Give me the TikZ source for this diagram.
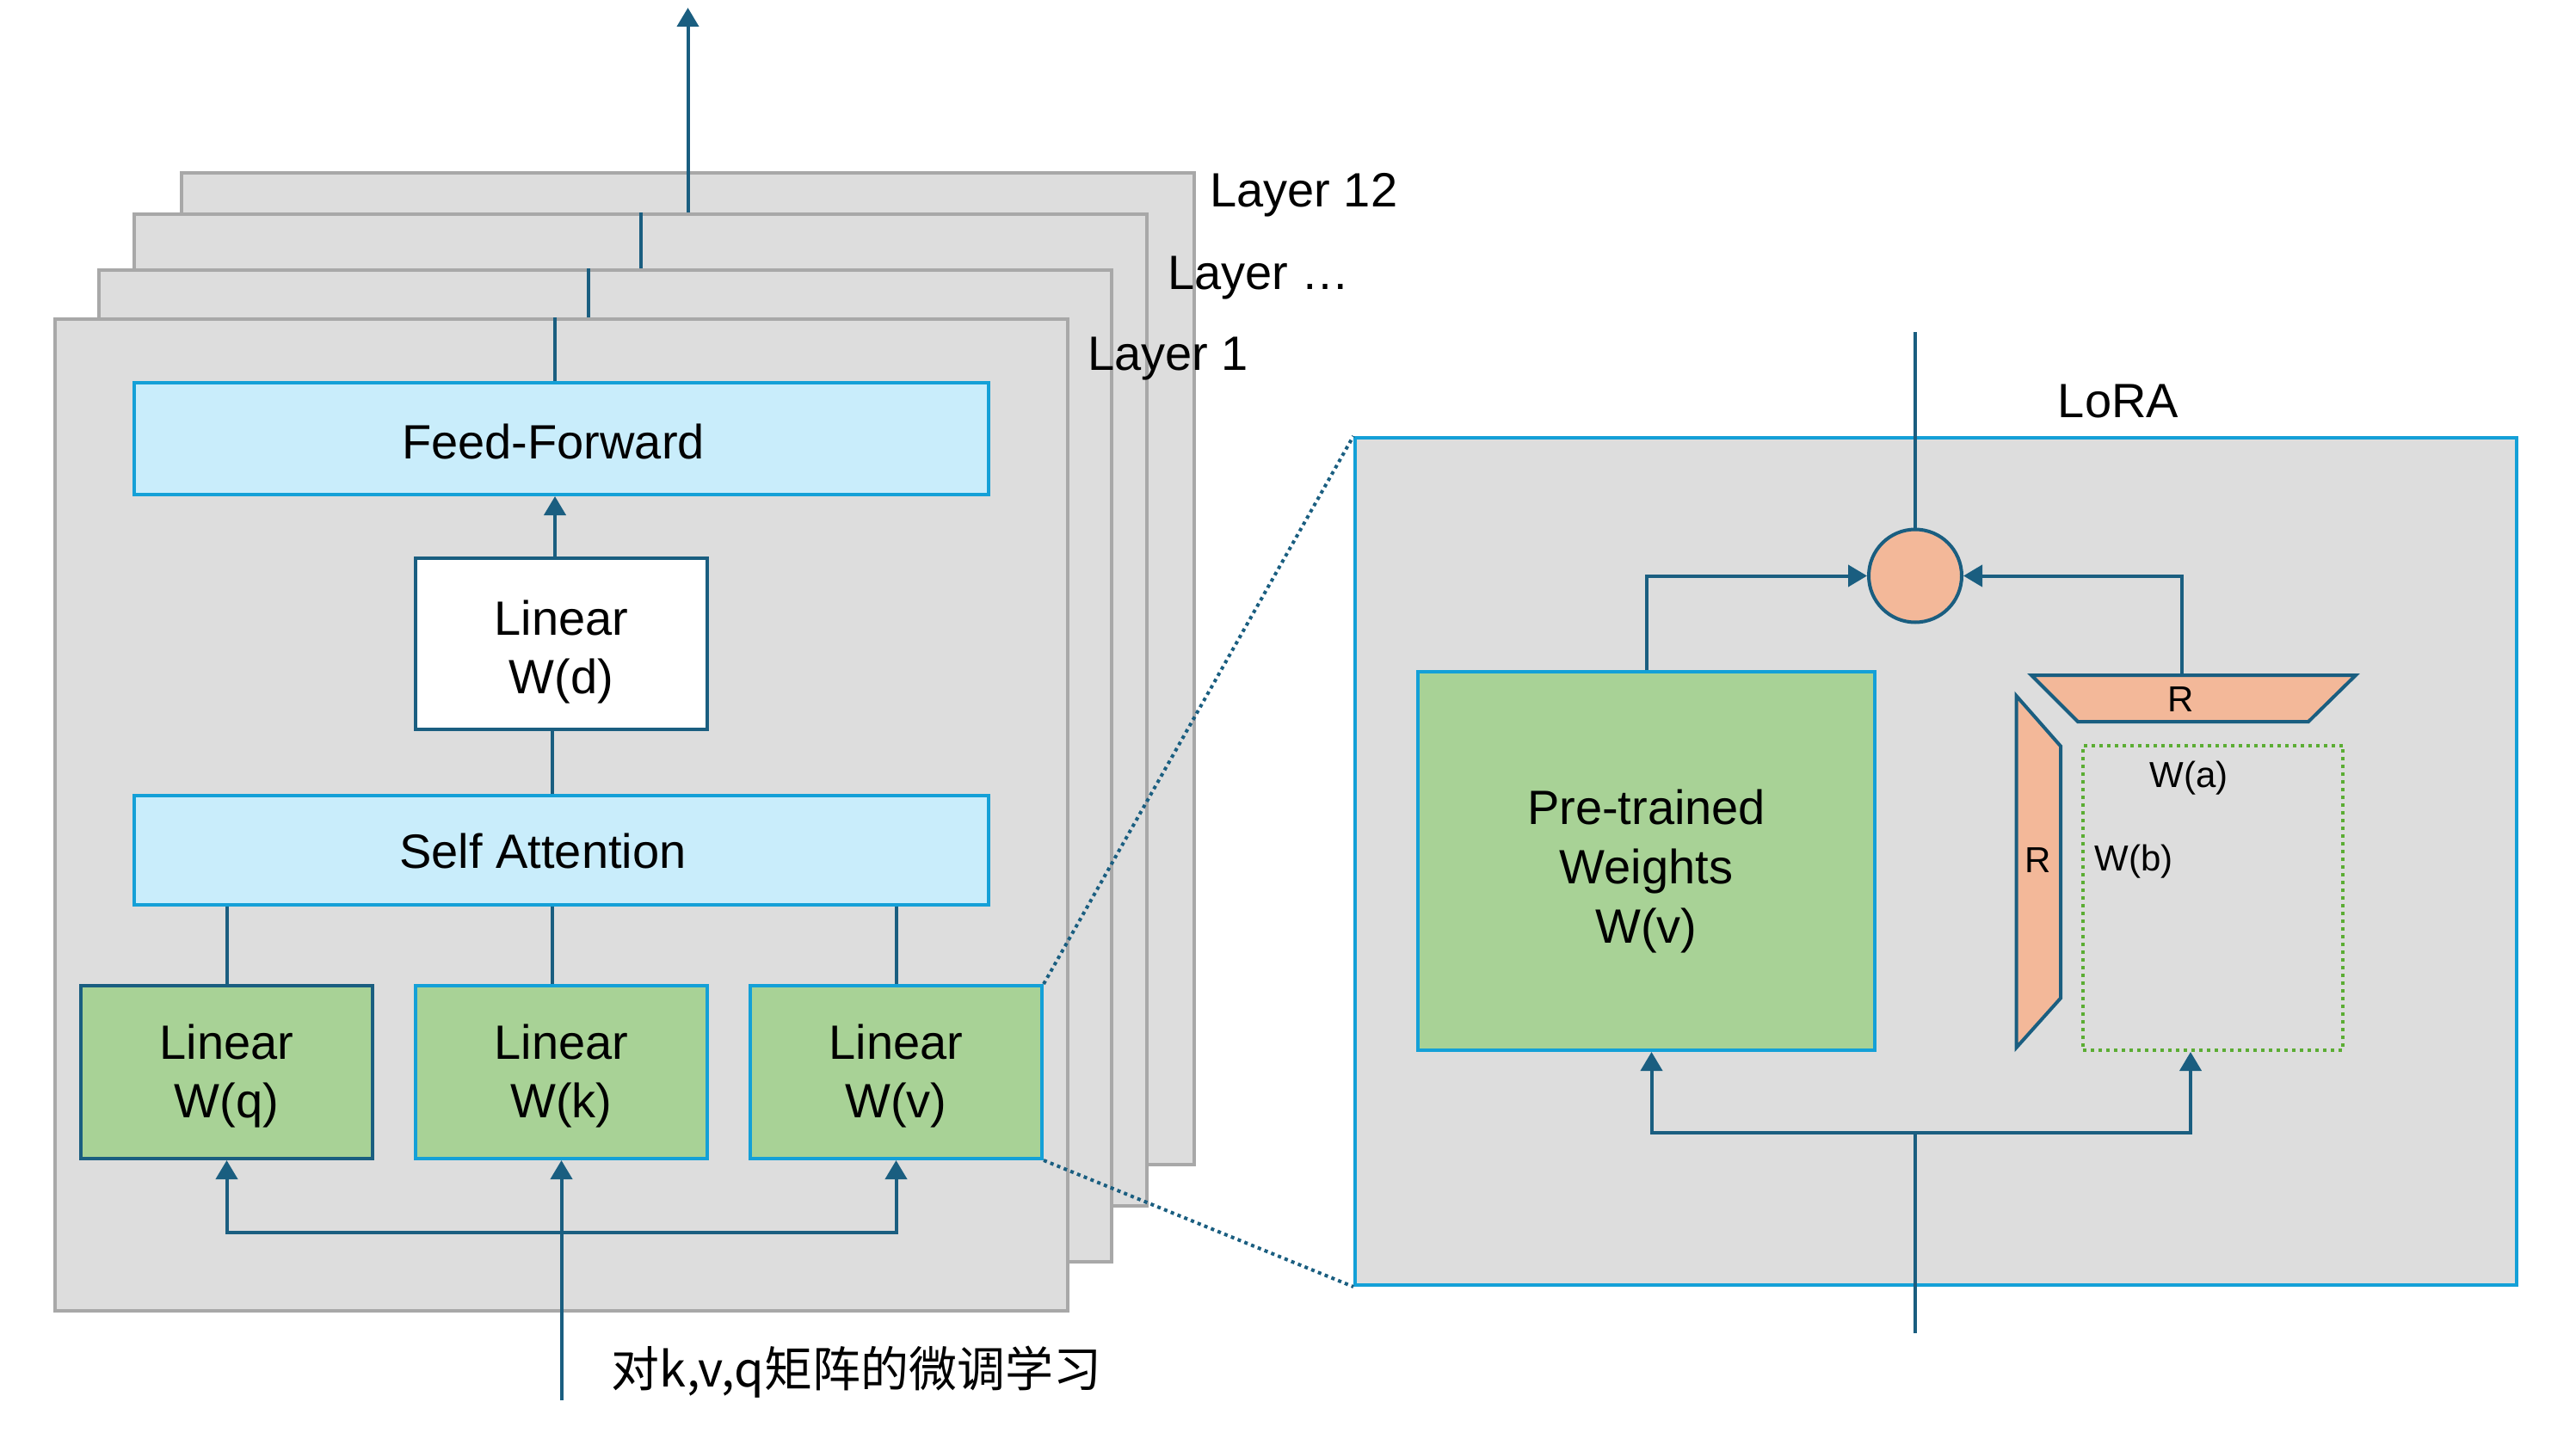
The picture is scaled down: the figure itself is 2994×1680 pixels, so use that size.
\documentclass[tikz,border=0pt]{standalone}
\usepackage{fontspec}
\setmainfont{Liberation Sans}
\newfontfamily\cjk{Noto Sans CJK SC}
\usetikzlibrary{arrows.meta,calc}
\definecolor{layerfill}{HTML}{DDDDDD}
\definecolor{layerdraw}{HTML}{A8A8A8}
\definecolor{lblue}{HTML}{C9EDFB}
\definecolor{mblue}{HTML}{14A0D7}
\definecolor{dblue}{HTML}{1A5E80}
\definecolor{lgreen}{HTML}{A8D296}
\definecolor{peach}{HTML}{F3B899}
\definecolor{dotgreen}{HTML}{5BAD33}
\begin{document}
\begin{tikzpicture}[x=0.5pt,y=-0.5pt,
  layerbox/.style={draw=layerdraw, fill=layerfill, line width=2pt, minimum width=588.5pt, minimum height=576.5pt, inner sep=0pt},
  bluebox/.style={draw=mblue, fill=lblue, line width=2pt, inner sep=0pt, minimum width=496.5pt},
  greenbox/.style={draw=mblue, fill=lgreen, line width=2pt, inner sep=0pt, minimum width=169.5pt, minimum height=100.5pt},
  conn/.style={draw=dblue, line width=2pt},
  arr/.style={conn, -{Triangle[length=11pt,width=12.5pt]}},
  dotconn/.style={draw=dblue, line width=2pt, dash pattern=on 2pt off 2.2pt},
  txt/.style={font=\fontsize{28}{34}\selectfont, inner sep=0pt, align=center},
  smalltxt/.style={font=\fontsize{21}{25}\selectfont, inner sep=0pt},
  trap/.style={draw=dblue, fill=peach, line width=2pt, line join=miter},
]
\useasboundingbox (0,0) rectangle (2994,1680);

% ---- stacked layers ----
\node[layerbox] (l12) at (799.5,777.75) {};
\node[layerbox] (ldots) at (744.5,825.3) {};
\node[layerbox] (l1b) at (703,890.3) {};
\node[layerbox] (front) at (652.5,947.5) {};

\coordinate (top) at (799.5,9);
\coordinate (xa) at (745,0);
\coordinate (xb) at (684,0);
\coordinate (xc) at (645,0);
\coordinate (xd) at (642,0);

\draw[arr] (top |- ldots.north) -- (top);
\draw[conn] (xa |- l1b.north) -- (xa |- ldots.north);
\draw[conn] (xb |- front.north) -- (xb |- l1b.north);

\node[txt, anchor=base west] (lab12) at (1406,241) {Layer 12};
\node[txt, anchor=base west] (labdots) at (1357,336) {Layer …};
\node[txt, anchor=base west] (lab1) at (1264,430) {Layer 1};

% ---- layer 1 content ----
\node[bluebox, minimum height=65pt] (ff) at (652.5,510) {};
\node[txt, anchor=base] (fftext) at (643,533) {Feed-Forward};
\node[greenbox, draw=dblue, fill=white, minimum height=99.5pt] (wd) at (652.5,748.5) {};
\node[txt] (wdtext) at (652.5,758) {Linear\\W(d)};
\node[bluebox, minimum height=63.5pt] (sa) at (652.5,988.5) {};
\node[txt, anchor=base] (satext) at (631,1009) {Self Attention};
\node[greenbox, draw=dblue] (wq) at (263.5,1246.5) {};
\node[greenbox] (wk) at (652.5,1246.5) {};
\node[greenbox] (wv) at (1041.5,1246.5) {};
\node[txt] (wqtext) at (263.5,1251) {Linear\\W(q)};
\node[txt] (wktext) at (652.5,1251) {Linear\\W(k)};
\node[txt] (wvtext) at (1041.5,1251) {Linear\\W(v)};

\draw[conn] (xc |- ff.north) -- (xc |- front.north);
\draw[arr] (xc |- wd.north) -- (xc |- ff.south);
\draw[conn] (xd |- sa.north) -- (xd |- wd.south);
\draw[conn] (wq.north |- sa.south) -- (wq.north);
\draw[conn] (xd |- sa.south) -- (xd |- wk.north);
\draw[conn] (wv.north |- sa.south) -- (wv.north);

\coordinate (bus) at (652.5,1433);
\coordinate (inp) at (652.5,1628);
\draw[arr] (bus) -| (wq.south);
\draw[arr] (bus) -| (wv.south);
\draw[arr] (inp) -- (wk.south);

\node[txt, anchor=west, font={\cjk\fontsize{28}{34}\selectfont}] (cn) at (710,1595) {对k,v,q矩阵的微调学习};

% ---- LoRA ----
\node[draw=mblue, fill=layerfill, line width=2pt, minimum width=675pt, minimum height=492.5pt, inner sep=0pt] (lora) at (2250,1001.5) {};
\node[txt, anchor=base] (loralab) at (2462,485) {LoRA};

\draw[dotconn] (wv.north east) -- (lora.north west);
\draw[dotconn] (wv.south east) -- (lora.south west);

\node[circle, draw=dblue, fill=peach, line width=2pt, minimum size=54pt, inner sep=0pt] (plus) at (2226,669.5) {};
\coordinate (out) at (2226,386);
\draw[conn] (plus.north) -- (out);

\node[greenbox, minimum width=265.5pt, minimum height=220pt] (pt) at (1913.5,1001) {};
\node[txt, font=\fontsize{28}{34.5}\selectfont] (pttext) at (1913.5,1013) {Pre-trained\\Weights\\W(v)};

\draw[trap] (2361,785) -- (2738,785) -- (2683,839) -- (2415,839) -- cycle;
\coordinate (rtop) at (2536,785);
\node[smalltxt] (ra) at (2535,813) {R};
\draw[trap] (2343.5,809) -- (2395,867.5) -- (2395,1160.5) -- (2343.5,1218) -- cycle;
\node[smalltxt] (rb) at (2369,1000) {R};

\node[draw=dotgreen, line width=2pt, dash pattern=on 2pt off 2.5pt, minimum width=151pt, minimum height=177.25pt, inner sep=0pt] (ab) at (2572,1043.75) {};
\node[smalltxt] (wa) at (2544,905) {W(a)};
\node[smalltxt, anchor=west] (wb) at (2434,1001.5) {W(b)};

\draw[arr] (pt.north) |- (plus.west);
\draw[arr] (rtop) |- (plus.east);

\coordinate (lin) at (2226,1550);
\coordinate (lbus) at (2226,1316.5);
\draw[conn] (lin) -- (lbus);
\draw[arr] (lbus) -| ([xshift=3pt]pt.south);
\draw[arr] (lbus) -| ([xshift=-13pt]ab.south);
\end{tikzpicture}
\end{document}
